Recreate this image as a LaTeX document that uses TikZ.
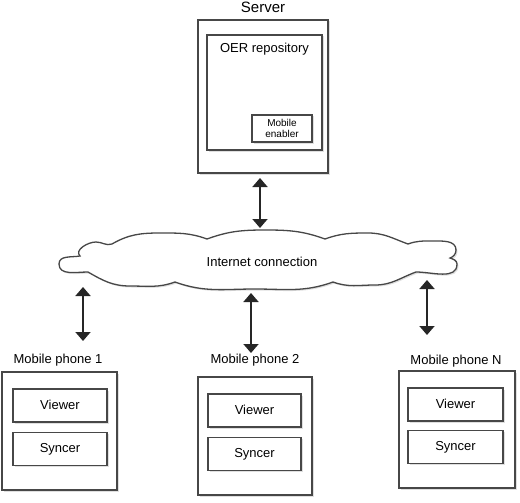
\documentclass[tikz,border=0pt]{standalone}
\usepackage{fontspec}
\setmainfont{Liberation Sans}
\usetikzlibrary{positioning}
\usetikzlibrary{arrows.meta}
\usetikzlibrary{shadows}

\tikzset{
  unit/.style={draw=black!72,line width=1.3pt,fill=white,
    drop shadow={shadow xshift=1.5pt,shadow yshift=-1.5pt,opacity=.25}},
  part/.style={unit,text height=9.5pt,text depth=2.5pt,font=\fontsize{13}{15}\selectfont},
  tag/.style={anchor=base,font=\fontsize{13}{15}\selectfont},
  link/.style={{Triangle[length=9pt,width=15pt]}-{Triangle[length=9pt,width=15pt]},
    line width=1.8pt,black!85},
}

\begin{document}
\begin{tikzpicture}[x=1pt,y=-1pt]
  \useasboundingbox (0,0) rectangle (520,503);

  % server side
  \node (server)  [unit,minimum width=130pt,minimum height=153pt] at (263,96.5) {};
  \node (oer)     [unit,minimum width=115pt,minimum height=115pt] at (264.5,92.5) {};
  \node (enabler) [unit,minimum width=60pt,minimum height=27pt,align=center,
                   font=\fontsize{10}{11}\selectfont] at (282,128.5) {Mobile\\enabler};
  \node (servertag) [tag,font=\fontsize{15}{17}\selectfont] at (263,13) {Server};
  \node (oertag)    [tag] at (264.5,53) {OER repository};

  % the cloud
  \draw[draw=black!72,line width=1.3pt,fill=white,
        drop shadow={shadow xshift=1.5pt,shadow yshift=-1.5pt,opacity=.25}]
    (88,272) to[out=180,in=-90] (59,264) to[out=90,in=190] (80,256)
    to[out=135,in=180] (96,242) to[out=0,in=200] (112,244)
    to[out=30,in=180] (160,233) to[out=0,in=160] (207,239)
    to[out=20,in=180] (265,230) to[out=0,in=160] (325,239)
    to[out=20,in=180] (368,233) to[out=0,in=160] (408,244)
    to[out=20,in=180] (432,241) to[out=0,in=90] (456,250)
    to[out=-90,in=20] (450,258) to[out=-20,in=90] (457,264)
    to[out=-90,in=0] (416,272)
    to[out=200,in=0] (375,285) to[out=180,in=-20] (333,282)
    to[out=200,in=0] (255,289) to[out=180,in=-20] (175,282)
    to[out=200,in=0] (130,286) to[out=180,in=-30] (88,272) -- cycle;
  \node (net) [tag] at (262,266) {Internet connection};

  % mobile phones
  \node (phone1) [unit,minimum width=115pt,minimum height=118pt] at (59.5,431) {};
  \node (view1)  [part,minimum width=94pt,minimum height=33pt] at (60,405.5) {Viewer};
  \node (sync1)  [part,minimum width=94pt,minimum height=33pt,below=9pt of view1] {Syncer};
  \node (tag1)   [tag] at (58,363) {Mobile phone 1};

  \node (phone2) [unit,minimum width=114pt,minimum height=118pt] at (255,436) {};
  \node (view2)  [part,minimum width=93pt,minimum height=33pt] at (254.5,410.5) {Viewer};
  \node (sync2)  [part,minimum width=93pt,minimum height=33pt,below=9pt of view2] {Syncer};
  \node (tag2)   [tag] at (255,363) {Mobile phone 2};

  \node (phoneN) [unit,minimum width=116pt,minimum height=117pt] at (457,429.5) {};
  \node (viewN)  [part,minimum width=95pt,minimum height=33pt] at (455.5,404.5) {Viewer};
  \node (syncN)  [part,minimum width=95pt,minimum height=33pt,below=8pt of viewN] {Syncer};
  \node (tagN)   [tag] at (456,364) {Mobile phone N};

  % arrow ends
  \coordinate (s0) at (260,178);  \coordinate (n0) at (260,228);
  \coordinate (n1) at (83,287);   \coordinate (p1) at (83,341);
  \coordinate (n2) at (251,293);  \coordinate (p2) at (251,353);
  \coordinate (nN) at (427,280);  \coordinate (pN) at (427,335);
  \draw[link] (s0) -- (n0);
  \draw[link] (n1) -- (p1);
  \draw[link] (n2) -- (p2);
  \draw[link] (nN) -- (pN);
\end{tikzpicture}
\end{document}
